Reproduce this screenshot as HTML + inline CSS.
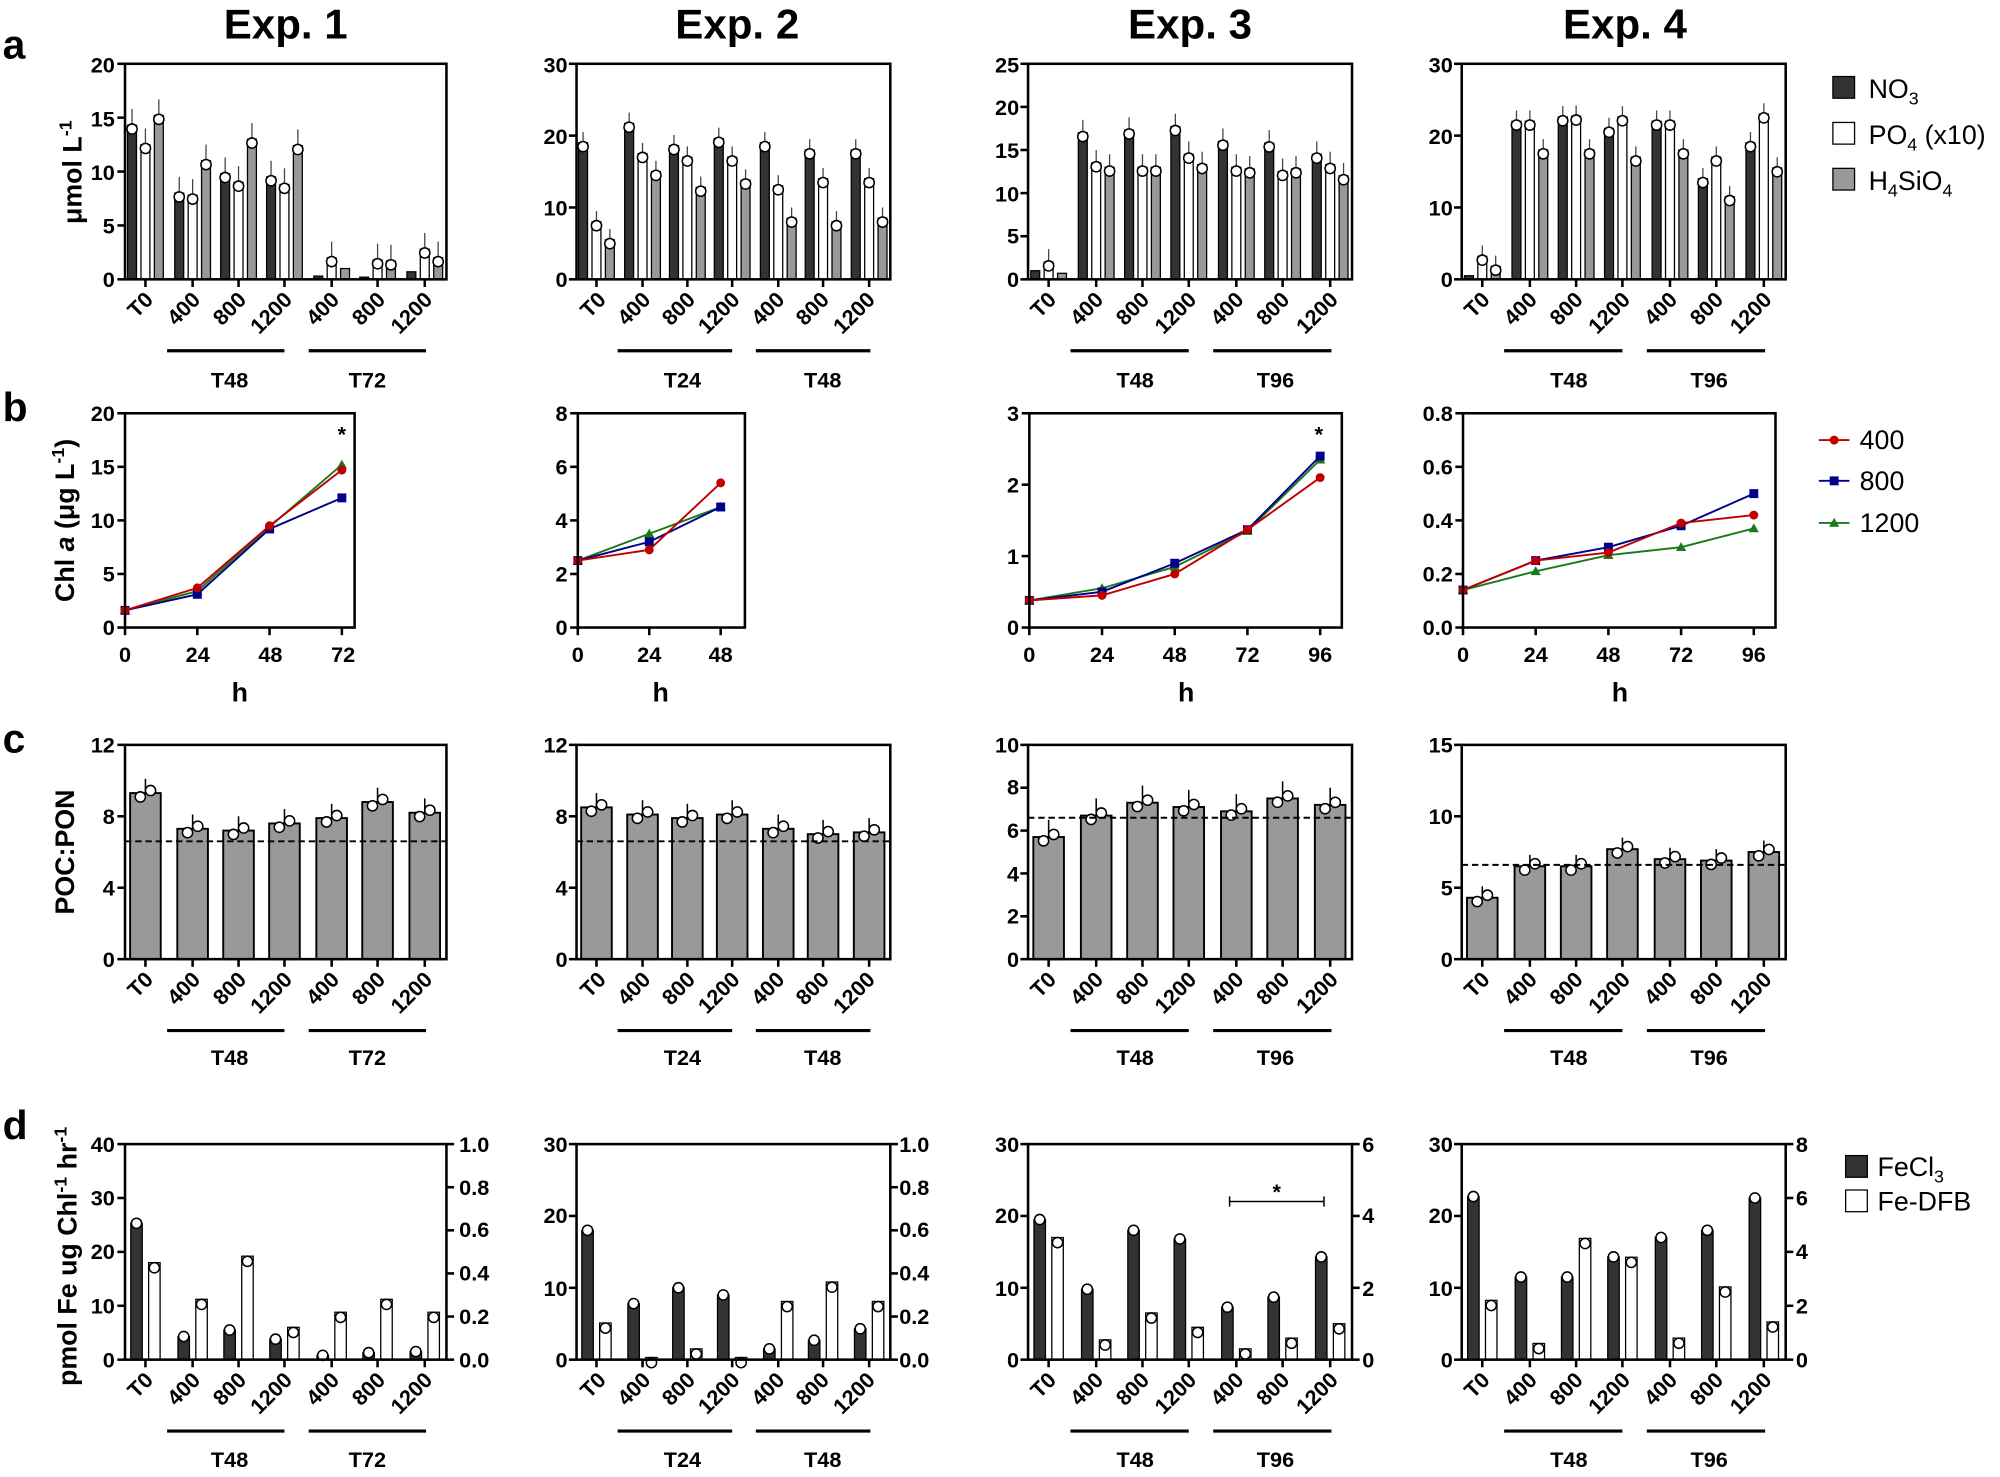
<!DOCTYPE html>
<html><head><meta charset="utf-8"><style>
html,body{margin:0;padding:0;background:#fff}
svg{display:block}
text{font-family:"Liberation Sans",Arial,sans-serif;font-weight:bold;fill:#000}
.yt{font-size:17px;text-anchor:end}
.yr{font-size:17px;text-anchor:start}
.xt{font-size:17px;text-anchor:middle}
.rl{font-size:17px;text-anchor:end}
.gl{font-size:17px;text-anchor:middle}
.ttl{font-size:33px;text-anchor:middle}
.pl{font-size:32px}
.yl{font-size:21px;text-anchor:middle}
.lg{font-size:21px;font-weight:normal}
</style></head><body>
<svg id="s" width="2000" height="1477" viewBox="0 0 1568 1158" xmlns="http://www.w3.org/2000/svg">
<g id="geo"></g>
<text class="ttl" x="224" y="30">Exp. 1</text>
<text class="ttl" x="578" y="30">Exp. 2</text>
<text class="ttl" x="933" y="30">Exp. 3</text>
<text class="ttl" x="1274" y="30">Exp. 4</text>
<text class="pl" x="2" y="46">a</text>
<text class="pl" x="2" y="330">b</text>
<text class="pl" x="2" y="590">c</text>
<text class="pl" x="2" y="893">d</text>
<text class="yl" transform="translate(64,135) rotate(-90)">μmol L<tspan dy="-8" font-size="14">-1</tspan></text>
<text class="yl" transform="translate(58,408) rotate(-90)">Chl <tspan font-style="italic">a</tspan> (μg L<tspan dy="-8" font-size="14">-1</tspan><tspan dy="8">)</tspan></text>
<text class="yl" transform="translate(58,668) rotate(-90)">POC:PON</text>
<text class="yl" transform="translate(60,985) rotate(-90)">pmol Fe ug Chl<tspan dy="-8" font-size="14">-1</tspan><tspan dy="8"> hr</tspan><tspan dy="-8" font-size="14">-1</tspan></text>

<text class="yt" x="90" y="225">0</text><text class="yt" x="90" y="183">5</text><text class="yt" x="90" y="141">10</text><text class="yt" x="90" y="99">15</text><text class="yt" x="90" y="57">20</text>
<text class="yt" x="445" y="225">0</text><text class="yt" x="445" y="169">10</text><text class="yt" x="445" y="113">20</text><text class="yt" x="445" y="57">30</text>
<text class="yt" x="799" y="225">0</text><text class="yt" x="799" y="191">5</text><text class="yt" x="799" y="158">10</text><text class="yt" x="799" y="124">15</text><text class="yt" x="799" y="90">20</text><text class="yt" x="799" y="57">25</text>
<text class="yt" x="1139" y="225">0</text><text class="yt" x="1139" y="169">10</text><text class="yt" x="1139" y="113">20</text><text class="yt" x="1139" y="57">30</text>

<text class="yt" x="90" y="498">0</text><text class="yt" x="90" y="456">5</text><text class="yt" x="90" y="414">10</text><text class="yt" x="90" y="372">15</text><text class="yt" x="90" y="330">20</text>
<text class="yt" x="445" y="498">0</text><text class="yt" x="445" y="456">2</text><text class="yt" x="445" y="414">4</text><text class="yt" x="445" y="372">6</text><text class="yt" x="445" y="330">8</text>
<text class="yt" x="799" y="498">0</text><text class="yt" x="799" y="442">1</text><text class="yt" x="799" y="386">2</text><text class="yt" x="799" y="330">3</text>
<text class="yt" x="1139" y="498">0.0</text><text class="yt" x="1139" y="456">0.2</text><text class="yt" x="1139" y="414">0.4</text><text class="yt" x="1139" y="372">0.6</text><text class="yt" x="1139" y="330">0.8</text>
<text class="xt" x="98" y="519">0</text><text class="xt" x="155" y="519">24</text><text class="xt" x="212" y="519">48</text><text class="xt" x="269" y="519">72</text>
<text class="xt" x="453" y="519">0</text><text class="xt" x="509" y="519">24</text><text class="xt" x="565" y="519">48</text>
<text class="xt" x="807" y="519">0</text><text class="xt" x="864" y="519">24</text><text class="xt" x="921" y="519">48</text><text class="xt" x="978" y="519">72</text><text class="xt" x="1035" y="519">96</text>
<text class="xt" x="1147" y="519">0</text><text class="xt" x="1204" y="519">24</text><text class="xt" x="1261" y="519">48</text><text class="xt" x="1318" y="519">72</text><text class="xt" x="1375" y="519">96</text>
<text class="yl" x="188" y="550">h</text><text class="yl" x="518" y="550">h</text><text class="yl" x="930" y="550">h</text><text class="yl" x="1270" y="550">h</text>
<text class="xt" x="268" y="346">*</text><text class="xt" x="1034" y="346">*</text>

<text class="yt" x="90" y="758">0</text><text class="yt" x="90" y="702">4</text><text class="yt" x="90" y="646">8</text><text class="yt" x="90" y="590">12</text>
<text class="yt" x="445" y="758">0</text><text class="yt" x="445" y="702">4</text><text class="yt" x="445" y="646">8</text><text class="yt" x="445" y="590">12</text>
<text class="yt" x="799" y="758">0</text><text class="yt" x="799" y="724">2</text><text class="yt" x="799" y="691">4</text><text class="yt" x="799" y="657">6</text><text class="yt" x="799" y="623">8</text><text class="yt" x="799" y="590">10</text>
<text class="yt" x="1139" y="758">0</text><text class="yt" x="1139" y="702">5</text><text class="yt" x="1139" y="646">10</text><text class="yt" x="1139" y="590">15</text>

<text class="yt" x="90" y="1072">0</text><text class="yt" x="90" y="1030">10</text><text class="yt" x="90" y="987">20</text><text class="yt" x="90" y="945">30</text><text class="yt" x="90" y="903">40</text>
<text class="yr" x="360" y="1072">0.0</text><text class="yr" x="360" y="1038">0.2</text><text class="yr" x="360" y="1004">0.4</text><text class="yr" x="360" y="970">0.6</text><text class="yr" x="360" y="937">0.8</text><text class="yr" x="360" y="903">1.0</text>
<text class="yt" x="445" y="1072">0</text><text class="yt" x="445" y="1016">10</text><text class="yt" x="445" y="959">20</text><text class="yt" x="445" y="903">30</text>
<text class="yr" x="705" y="1072">0.0</text><text class="yr" x="705" y="1038">0.2</text><text class="yr" x="705" y="1004">0.4</text><text class="yr" x="705" y="970">0.6</text><text class="yr" x="705" y="937">0.8</text><text class="yr" x="705" y="903">1.0</text>
<text class="yt" x="799" y="1072">0</text><text class="yt" x="799" y="1016">10</text><text class="yt" x="799" y="959">20</text><text class="yt" x="799" y="903">30</text>
<text class="yr" x="1068" y="1072">0</text><text class="yr" x="1068" y="1016">2</text><text class="yr" x="1068" y="959">4</text><text class="yr" x="1068" y="903">6</text>
<text class="yt" x="1139" y="1072">0</text><text class="yt" x="1139" y="1016">10</text><text class="yt" x="1139" y="959">20</text><text class="yt" x="1139" y="903">30</text>
<text class="yr" x="1408" y="1072">0</text><text class="yr" x="1408" y="1030">2</text><text class="yr" x="1408" y="987">4</text><text class="yr" x="1408" y="945">6</text><text class="yr" x="1408" y="903">8</text>
<text class="xt" x="1001" y="940">*</text>

<g>
<text class="rl" transform="translate(121,236) rotate(-45)">T0</text><text class="rl" transform="translate(158,236) rotate(-45)">400</text><text class="rl" transform="translate(194,236) rotate(-45)">800</text><text class="rl" transform="translate(230,236) rotate(-45)">1200</text><text class="rl" transform="translate(267,236) rotate(-45)">400</text><text class="rl" transform="translate(303,236) rotate(-45)">800</text><text class="rl" transform="translate(340,236) rotate(-45)">1200</text>
<text class="rl" transform="translate(476,236) rotate(-45)">T0</text><text class="rl" transform="translate(511,236) rotate(-45)">400</text><text class="rl" transform="translate(546,236) rotate(-45)">800</text><text class="rl" transform="translate(581,236) rotate(-45)">1200</text><text class="rl" transform="translate(616,236) rotate(-45)">400</text><text class="rl" transform="translate(651,236) rotate(-45)">800</text><text class="rl" transform="translate(687,236) rotate(-45)">1200</text>
<text class="rl" transform="translate(829,236) rotate(-45)">T0</text><text class="rl" transform="translate(866,236) rotate(-45)">400</text><text class="rl" transform="translate(902,236) rotate(-45)">800</text><text class="rl" transform="translate(939,236) rotate(-45)">1200</text><text class="rl" transform="translate(976,236) rotate(-45)">400</text><text class="rl" transform="translate(1012,236) rotate(-45)">800</text><text class="rl" transform="translate(1050,236) rotate(-45)">1200</text>
<text class="rl" transform="translate(1169,236) rotate(-45)">T0</text><text class="rl" transform="translate(1206,236) rotate(-45)">400</text><text class="rl" transform="translate(1242,236) rotate(-45)">800</text><text class="rl" transform="translate(1279,236) rotate(-45)">1200</text><text class="rl" transform="translate(1316,236) rotate(-45)">400</text><text class="rl" transform="translate(1352,236) rotate(-45)">800</text><text class="rl" transform="translate(1390,236) rotate(-45)">1200</text>
</g>
<g>
<text class="rl" transform="translate(121,769) rotate(-45)">T0</text><text class="rl" transform="translate(158,769) rotate(-45)">400</text><text class="rl" transform="translate(194,769) rotate(-45)">800</text><text class="rl" transform="translate(230,769) rotate(-45)">1200</text><text class="rl" transform="translate(267,769) rotate(-45)">400</text><text class="rl" transform="translate(303,769) rotate(-45)">800</text><text class="rl" transform="translate(340,769) rotate(-45)">1200</text>
<text class="rl" transform="translate(476,769) rotate(-45)">T0</text><text class="rl" transform="translate(511,769) rotate(-45)">400</text><text class="rl" transform="translate(546,769) rotate(-45)">800</text><text class="rl" transform="translate(581,769) rotate(-45)">1200</text><text class="rl" transform="translate(616,769) rotate(-45)">400</text><text class="rl" transform="translate(651,769) rotate(-45)">800</text><text class="rl" transform="translate(687,769) rotate(-45)">1200</text>
<text class="rl" transform="translate(829,769) rotate(-45)">T0</text><text class="rl" transform="translate(866,769) rotate(-45)">400</text><text class="rl" transform="translate(902,769) rotate(-45)">800</text><text class="rl" transform="translate(939,769) rotate(-45)">1200</text><text class="rl" transform="translate(976,769) rotate(-45)">400</text><text class="rl" transform="translate(1012,769) rotate(-45)">800</text><text class="rl" transform="translate(1050,769) rotate(-45)">1200</text>
<text class="rl" transform="translate(1169,769) rotate(-45)">T0</text><text class="rl" transform="translate(1206,769) rotate(-45)">400</text><text class="rl" transform="translate(1242,769) rotate(-45)">800</text><text class="rl" transform="translate(1279,769) rotate(-45)">1200</text><text class="rl" transform="translate(1316,769) rotate(-45)">400</text><text class="rl" transform="translate(1352,769) rotate(-45)">800</text><text class="rl" transform="translate(1390,769) rotate(-45)">1200</text>
</g>
<g>
<text class="rl" transform="translate(121,1083) rotate(-45)">T0</text><text class="rl" transform="translate(158,1083) rotate(-45)">400</text><text class="rl" transform="translate(194,1083) rotate(-45)">800</text><text class="rl" transform="translate(230,1083) rotate(-45)">1200</text><text class="rl" transform="translate(267,1083) rotate(-45)">400</text><text class="rl" transform="translate(303,1083) rotate(-45)">800</text><text class="rl" transform="translate(340,1083) rotate(-45)">1200</text>
<text class="rl" transform="translate(476,1083) rotate(-45)">T0</text><text class="rl" transform="translate(511,1083) rotate(-45)">400</text><text class="rl" transform="translate(546,1083) rotate(-45)">800</text><text class="rl" transform="translate(581,1083) rotate(-45)">1200</text><text class="rl" transform="translate(616,1083) rotate(-45)">400</text><text class="rl" transform="translate(651,1083) rotate(-45)">800</text><text class="rl" transform="translate(687,1083) rotate(-45)">1200</text>
<text class="rl" transform="translate(829,1083) rotate(-45)">T0</text><text class="rl" transform="translate(866,1083) rotate(-45)">400</text><text class="rl" transform="translate(902,1083) rotate(-45)">800</text><text class="rl" transform="translate(939,1083) rotate(-45)">1200</text><text class="rl" transform="translate(976,1083) rotate(-45)">400</text><text class="rl" transform="translate(1012,1083) rotate(-45)">800</text><text class="rl" transform="translate(1050,1083) rotate(-45)">1200</text>
<text class="rl" transform="translate(1169,1083) rotate(-45)">T0</text><text class="rl" transform="translate(1206,1083) rotate(-45)">400</text><text class="rl" transform="translate(1242,1083) rotate(-45)">800</text><text class="rl" transform="translate(1279,1083) rotate(-45)">1200</text><text class="rl" transform="translate(1316,1083) rotate(-45)">400</text><text class="rl" transform="translate(1352,1083) rotate(-45)">800</text><text class="rl" transform="translate(1390,1083) rotate(-45)">1200</text>
</g>
<text class="gl" x="180" y="304">T48</text><text class="gl" x="288" y="304">T72</text>
<text class="gl" x="535" y="304">T24</text><text class="gl" x="645" y="304">T48</text>
<text class="gl" x="890" y="304">T48</text><text class="gl" x="1000" y="304">T96</text>
<text class="gl" x="1230" y="304">T48</text><text class="gl" x="1340" y="304">T96</text>
<text class="gl" x="180" y="835">T48</text><text class="gl" x="288" y="835">T72</text>
<text class="gl" x="535" y="835">T24</text><text class="gl" x="645" y="835">T48</text>
<text class="gl" x="890" y="835">T48</text><text class="gl" x="1000" y="835">T96</text>
<text class="gl" x="1230" y="835">T48</text><text class="gl" x="1340" y="835">T96</text>
<text class="gl" x="180" y="1150">T48</text><text class="gl" x="288" y="1150">T72</text>
<text class="gl" x="535" y="1150">T24</text><text class="gl" x="645" y="1150">T48</text>
<text class="gl" x="890" y="1150">T48</text><text class="gl" x="1000" y="1150">T96</text>
<text class="gl" x="1230" y="1150">T48</text><text class="gl" x="1340" y="1150">T96</text>

<rect x="1437" y="60" width="17" height="17" fill="#333" stroke="#000"/>
<rect x="1437" y="96" width="17" height="17" fill="#fff" stroke="#000"/>
<rect x="1437" y="132" width="17" height="17" fill="#999" stroke="#000"/>
<text class="lg" x="1465" y="77">NO<tspan dy="5" font-size="14">3</tspan></text>
<text class="lg" x="1465" y="113">PO<tspan dy="5" font-size="14">4</tspan><tspan dy="-5"> (x10)</tspan></text>
<text class="lg" x="1465" y="149">H<tspan dy="5" font-size="14">4</tspan><tspan dy="-5">SiO</tspan><tspan dy="5" font-size="14">4</tspan></text>
<line x1="1426" y1="345" x2="1450" y2="345" stroke="#c00000" stroke-width="1.5"/><circle cx="1438" cy="345" r="3.5" fill="#c00000"/>
<line x1="1426" y1="377" x2="1450" y2="377" stroke="#00008b" stroke-width="1.5"/><rect x="1434.5" y="373.5" width="7" height="7" fill="#00008b"/>
<line x1="1426" y1="410" x2="1450" y2="410" stroke="#1a7a1a" stroke-width="1.5"/><path d="M1438 406 L1442 413 L1434 413Z" fill="#1a7a1a"/>
<text class="lg" x="1458" y="352">400</text><text class="lg" x="1458" y="384">800</text><text class="lg" x="1458" y="417">1200</text>
<rect x="1447" y="906" width="17" height="17" fill="#333" stroke="#000"/>
<rect x="1447" y="933" width="17" height="17" fill="#fff" stroke="#000"/>
<text class="lg" x="1472" y="922">FeCl<tspan dy="5" font-size="14">3</tspan></text>
<text class="lg" x="1472" y="949">Fe-DFB</text>
</svg>
<script>
(function(){
var NS="http://www.w3.org/2000/svg",g=document.getElementById("geo");
function el(n,a){var e=document.createElementNS(NS,n);for(var k in a)e.setAttribute(k,a[k]);g.appendChild(e);return e;}
var P=[{x0:98,w:252},{x0:452,w:246},{x0:806,w:254},{x0:1146,w:254}];
var off=[16,53,89,125,162,198,235];
function cx(p,i){return P[p].x0+off[i]*P[p].w/252;}
function box(x0,x1,yt,yb){el("rect",{x:x0,y:yt,width:x1-x0,height:yb-yt,fill:"none",stroke:"#000","stroke-width":2});}
function yt(x,yb,yt_,n,right){for(var i=0;i<=n;i++){var y=yb-(yb-yt_)*i/n;el("line",{x1:right?x:x-6,x2:right?x+6:x,y1:y,y2:y,stroke:"#000","stroke-width":2});}}
function under(p,yU){var r=P[p].w/252,x0=P[p].x0;el("line",{x1:x0+33*r,x2:x0+125*r,y1:yU,y2:yU,stroke:"#000","stroke-width":2.5});el("line",{x1:x0+144*r,x2:x0+236*r,y1:yU,y2:yU,stroke:"#000","stroke-width":2.5});}
function xticks(p,yb){for(var i=0;i<7;i++){var c=cx(p,i);el("line",{x1:c,x2:c,y1:yb,y2:yb+6,stroke:"#000","stroke-width":2});}}
function dot(x,y){el("circle",{cx:x,cy:y,r:4,fill:"#fff",stroke:"#000","stroke-width":1.2});}
var A=[[20,4,[[14.3,12.5,15.2],[8,7.8,11],[9.8,9,13],[9.5,8.8,12.4],[0.3,2,1],[0.2,1.8,1.7],[0.7,2.8,2]]],
[30,3,[[19,8,5.5],[21.7,17.5,15],[18.6,17,12.8],[19.6,17,13.8],[19,13,8.5],[18,14,8],[18,14,8.5]]],
[25,5,[[1,2,0.7],[17,13.5,13],[17.3,13,13],[17.7,14.5,13.3],[16,13,12.8],[15.8,12.5,12.8],[14.5,13.3,12]]],
[30,3,[[0.5,3.2,1.8],[22,22,18],[22.6,22.7,18],[21,22.6,17],[22,22,18],[14,17,11.5],[19,23,15.5]]]];
var cols=["#333","#fff","#999"];
A.forEach(function(d,p){var yb=219,ytp=50,s=(yb-ytp)/d[0];var x0=P[p].x0,x1=x0+P[p].w;
d[2].forEach(function(g3,i){var c=cx(p,i);g3.forEach(function(v,j){var bx=c+(j-1)*10.5-3.5,h=v*s;
el("rect",{x:bx,y:yb-h,width:7,height:h,fill:cols[j],stroke:"#000","stroke-width":1});
if(v>1.5){el("line",{x1:bx+3.5,x2:bx+3.5,y1:yb-h,y2:yb-h-1.5*s,stroke:"#444","stroke-width":1});dot(bx+3.5,yb-h+3);}});});
box(x0,x1,ytp,yb);yt(x0,yb,ytp,d[1]);xticks(p,yb);under(p,275);});
var B=[[98,268,72,20,4,[[1.6,3.7,9.5,14.7],[1.6,3.1,9.2,12.1],[1.6,3.4,9.4,15.2]],278],
[453,565,48,8,4,[[2.5,2.9,5.4],[2.5,3.2,4.5],[2.5,3.5,4.5]],584],
[807,1035,96,3,3,[[0.38,0.45,0.75,1.37,2.1],[0.38,0.5,0.9,1.37,2.4],[0.38,0.55,0.85,1.35,2.35]],1052],
[1147,1375,96,0.8,4,[[0.14,0.25,0.28,0.39,0.42],[0.14,0.25,0.3,0.38,0.5],[0.14,0.21,0.27,0.3,0.37]],1392]];
var lc=["#c00000","#00008b","#1a7a1a"];
B.forEach(function(d){var yb=492,ytp=324,xs=(d[1]-d[0]);var n=d[5][0].length;
[2,1,0].forEach(function(k){var pts=d[5][k].map(function(v,i){return [d[0]+xs*i/(n-1),yb-v/d[3]*(yb-ytp)];});
el("polyline",{points:pts.map(function(q){return q.join(",")}).join(" "),fill:"none",stroke:lc[k],"stroke-width":1.5});
pts.forEach(function(q){if(k==0)el("circle",{cx:q[0],cy:q[1],r:3.5,fill:lc[k]});else if(k==1)el("rect",{x:q[0]-3.5,y:q[1]-3.5,width:7,height:7,fill:lc[k]});else el("path",{d:"M"+q[0]+" "+(q[1]-4)+"l4 7h-8z",fill:lc[k]});});});
box(d[0],d[6],ytp,yb);yt(d[0],yb,ytp,d[4]);
for(var i=0;i<n;i++){var x=d[0]+xs*i/(n-1);el("line",{x1:x,x2:x,y1:yb,y2:yb+6,stroke:"#000","stroke-width":2});}});
var C=[[12,3,[9.3,7.3,7.2,7.6,7.9,8.8,8.2]],[12,3,[8.5,8.1,7.9,8.1,7.3,7.0,7.1]],[10,5,[5.7,6.7,7.3,7.1,6.9,7.5,7.2]],[15,3,[4.3,6.5,6.5,7.7,7.0,6.9,7.5]]];
C.forEach(function(d,p){var yb=752,ytp=584,s=(yb-ytp)/d[0];var x0=P[p].x0,x1=x0+P[p].w;
d[2].forEach(function(v,i){var c=cx(p,i),h=v*s;el("rect",{x:c-12,y:yb-h,width:24,height:h,fill:"#999",stroke:"#000","stroke-width":1.5});
el("line",{x1:c,x2:c,y1:yb-h,y2:yb-h-0.8*s,stroke:"#000","stroke-width":1.2});dot(c-4,yb-h+3);dot(c+4,yb-h-2);});
var yd=yb-6.6*s;el("line",{x1:x0,x2:x1,y1:yd,y2:yd,stroke:"#000","stroke-width":1.5,"stroke-dasharray":"5,3"});
box(x0,x1,ytp,yb);yt(x0,yb,ytp,d[1]);xticks(p,yb);under(p,808);});
var D=[[40,4,1,5,[25.3,4.3,5.5,3.8,0.8,1.3,1.5],[0.45,0.28,0.48,0.15,0.22,0.28,0.22]],
[30,3,1,5,[18,7.8,10,9,1.5,2.7,4.3],[0.17,0.01,0.05,0.01,0.27,0.36,0.27]],
[30,3,6,3,[19.5,9.8,18,16.8,7.3,8.7,14.3],[3.4,0.55,1.3,0.9,0.3,0.6,1.0]],
[30,3,8,4,[22.7,11.5,11.5,14.3,17,18,22.5],[2.2,0.6,4.5,3.8,0.8,2.7,1.4]]];
D.forEach(function(d,p){var yb=1066,ytp=897,H=yb-ytp;var x0=P[p].x0,x1=x0+P[p].w;
for(var i=0;i<7;i++){var c=cx(p,i);var h1=d[4][i]/d[0]*H,h2=d[5][i]/d[2]*H;
el("rect",{x:c-11.5,y:yb-h1,width:9,height:h1,fill:"#333",stroke:"#000","stroke-width":1});
el("rect",{x:c+2.5,y:yb-h2,width:9,height:h2,fill:"#fff",stroke:"#000","stroke-width":1});
dot(c-7,yb-h1);dot(c+7,yb-h2+4);}
box(x0,x1,ytp,yb);yt(x0,yb,ytp,d[1]);yt(x1,yb,ytp,d[3],true);xticks(p,yb);under(p,1122);});
el("line",{x1:964,x2:1038,y1:942,y2:942,stroke:"#000","stroke-width":1.2});
el("line",{x1:964,x2:964,y1:938,y2:946,stroke:"#000","stroke-width":1.2});
el("line",{x1:1038,x2:1038,y1:938,y2:946,stroke:"#000","stroke-width":1.2});
})();
</script>
</body></html>
